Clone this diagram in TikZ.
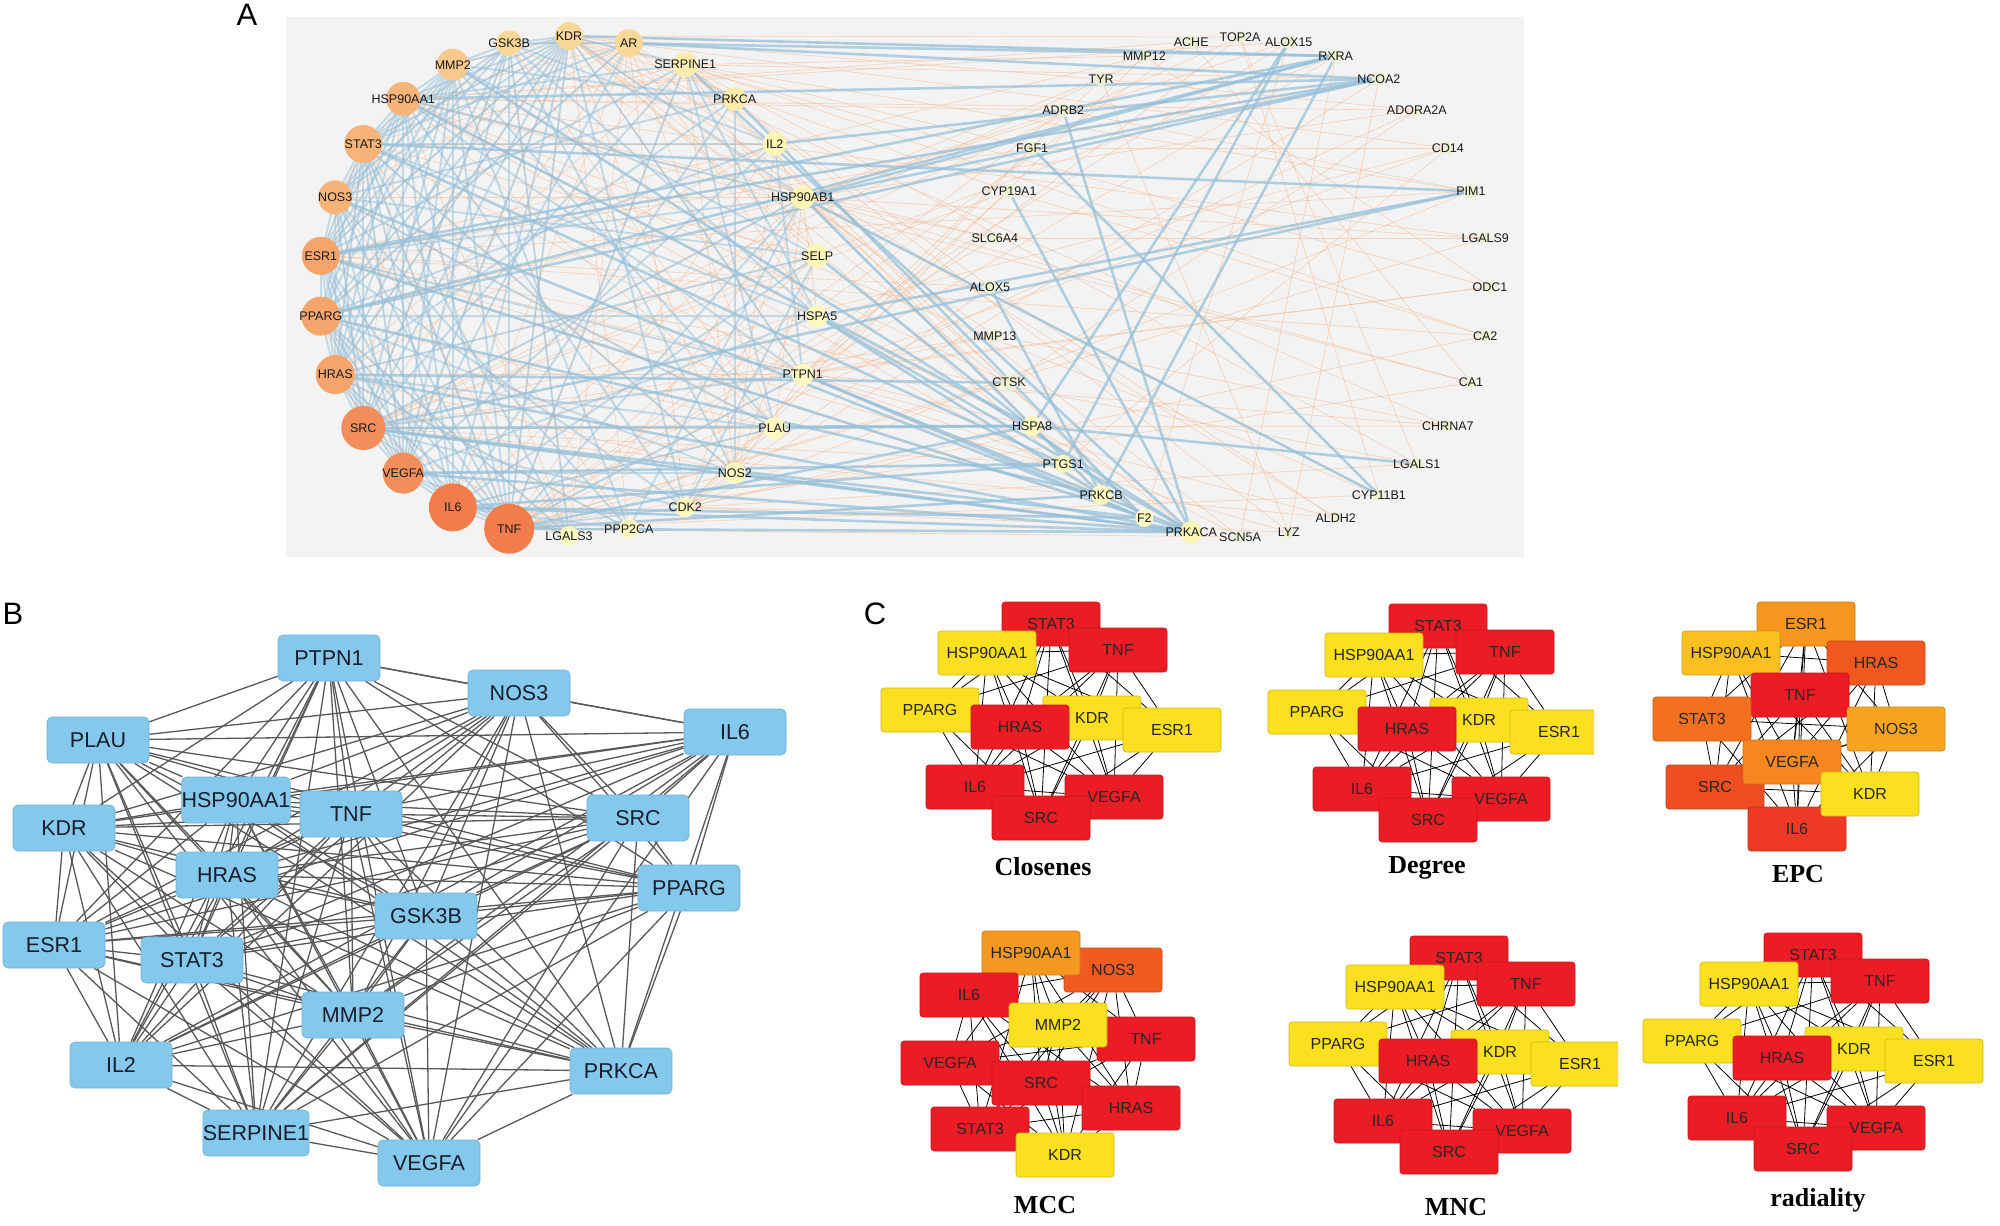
\documentclass[tikz,border=0pt]{standalone}
\usepackage{fontspec}
\setmainfont{Liberation Sans}
\newfontfamily\titleserif{Liberation Serif}
\pgfdeclarelayer{bglayer}
\pgfdeclarelayer{edgelayer}
\pgfsetlayers{bglayer,edgelayer,main}
\definecolor{abg}{RGB}{243,243,243}
\definecolor{bedge}{RGB}{150,192,218}
\definecolor{oedge}{RGB}{245,178,132}
\definecolor{nA}{RGB}{240,125,75}
\definecolor{nA1}{RGB}{242,142,90}
\definecolor{nB1}{RGB}{245,165,108}
\definecolor{nB}{RGB}{246,180,122}
\definecolor{nB2}{RGB}{248,200,140}
\definecolor{nC}{RGB}{249,215,150}
\definecolor{nY2}{RGB}{252,236,172}
\definecolor{nY1}{RGB}{253,245,180}
\definecolor{nY}{RGB}{252,248,192}
\definecolor{nR}{RGB}{236,241,212}
\definecolor{bfill}{RGB}{132,200,235}
\definecolor{bfont}{RGB}{25,30,45}
\definecolor{bgrey}{RGB}{88,88,88}
\definecolor{cR}{RGB}{236,28,36}
\definecolor{cY}{RGB}{250,224,30}
\definecolor{cE1}{RGB}{245,150,30}
\definecolor{cE2}{RGB}{250,192,32}
\definecolor{cE3}{RGB}{240,88,32}
\definecolor{cE4}{RGB}{242,112,32}
\definecolor{cE5}{RGB}{247,165,32}
\definecolor{cE6}{RGB}{238,78,34}
\definecolor{cE7}{RGB}{245,135,30}
\definecolor{cE8}{RGB}{238,58,36}
\definecolor{cM1}{RGB}{245,152,32}
\definecolor{cM2}{RGB}{240,92,32}

\def\leftlist{0/KDR/14/nC,1/GSK3B/13/nC,2/MMP2/16/nB2,3/HSP90AA1/17/nB,4/STAT3/19/nB,5/NOS3/17/nB,6/ESR1/19/nB1,7/PPARG/19.5/nB1,8/HRAS/19.5/nB1,9/SRC/22/nA1,10/VEGFA/20.5/nA1,11/IL6/24/nA,12/TNF/25/nA,13/LGALS3/10/nY,14/PPP2CA/10/nY,15/CDK2/10/nY,16/NOS2/11/nY,17/PLAU/11/nY,18/PTPN1/11/nY,19/HSPA5/11/nY,20/SELP/12/nY1,21/HSP90AB1/12/nY1,22/IL2/12/nY1,23/PRKCA/12/nY2,24/SERPINE1/12.5/nY2,25/AR/14/nC}
\def\rightlist{TOP2A/6/nR,ACHE/6/nR,MMP12/6/nR,TYR/7/nR,ADRB2/7/nR,FGF1/7/nR,CYP19A1/7/nR,SLC6A4/6/nR,ALOX5/7/nR,MMP13/7/nR,CTSK/8/nR,HSPA8/10/nY,PTGS1/9/nY,PRKCB/10/nY,F2/9/nY,PRKACA/11/nY1,SCN5A/6/nR,LYZ/6/nR,ALDH2/6/nR,CYP11B1/6/nR,LGALS1/7/nR,CHRNA7/6/nR,CA1/6/nR,CA2/6/nR,ODC1/6/nR,LGALS9/6/nR,PIM1/7/nR,CD14/6/nR,ADORA2A/6/nR,NCOA2/7/nR,RXRA/7/nR,ALOX15/7/nR}
\def\blist{1/PTPN1/329/658,2/NOS3/519/693,3/IL6/735/732,4/PLAU/98/740,5/KDR/64/828,6/HSP90AA1/236/800,7/TNF/351/814,8/SRC/638/818,9/HRAS/227/875,10/PPARG/689/888,11/GSK3B/426/916,12/ESR1/54/945,13/STAT3/192/960,14/MMP2/353/1015,15/IL2/121/1065,16/PRKCA/621/1071,17/SERPINE1/256/1133,18/VEGFA/429/1163}
\def\stdlist{STAT3/1051/624/cR,TNF/1118/650/cR,HSP90AA1/987/653/cY,PPARG/930/710/cY,KDR/1092/718/cY,HRAS/1020/727/cR,ESR1/1172/730/cY,IL6/975/787/cR,VEGFA/1114/797/cR,SRC/1041/818/cR}
\def\epclist{ESR1/1806/624/cE1,HSP90AA1/1731/653/cE2,HRAS/1876/663/cE3,TNF/1800/695/cR,STAT3/1702/719/cE4,NOS3/1896/729/cE5,SRC/1715/787/cE6,VEGFA/1792/762/cE7,IL6/1797/829/cE8,KDR/1870/794/cY}
\def\mcclist{NOS3/1113/970/cM2,HSP90AA1/1031/953/cM1,IL6/969/995/cR,TNF/1146/1039/cR,MMP2/1058/1025/cY,VEGFA/950/1063/cR,SRC/1041/1083/cR,HRAS/1131/1108/cR,STAT3/980/1129/cR,KDR/1065/1155/cY}

\newcommand\cnet[4]{%
  \begin{scope}[shift={(#2,#3)}, name prefix=#1-]
    \foreach \tx/\px/\py/\cc [count=\k from 0] in #4 {
      \node[cbox, fill=\cc, draw=\cc!82!black] (n\k) at (\px,\py) {\tx};
    }
    \begin{pgfonlayer}{edgelayer}
      \foreach \i in {0,...,8}{
        \pgfmathtruncatemacro\ip{\i+1}
        \foreach \j in {\ip,...,9}{\draw[ced] (n\i) -- (n\j);}
      }
    \end{pgfonlayer}
  \end{scope}}

\begin{document}
\begin{tikzpicture}[x=1pt,y=-1pt,
  acirc/.style={circle, inner sep=0pt, draw=none},
  alab/.style={inner sep=0pt, font=\fontsize{12.5}{13}\selectfont, text=black!90},
  bed/.style={draw=bedge, line width=2pt, opacity=.5},
  bedt/.style={draw=bedge, line width=2.6pt, opacity=.72},
  oed/.style={draw=oedge, line width=.7pt, opacity=.5},
  bbox/.style={rectangle, rounded corners=5pt, fill=bfill, draw=bfill!88!black, line width=.6pt,
    minimum width=102pt, minimum height=46pt, inner xsep=0pt, inner ysep=0pt,
    font=\fontsize{21.5}{22}\selectfont, text=bfont},
  bln/.style={draw=bgrey, line width=1.3pt},
  cbox/.style={rectangle, rounded corners=3pt, line width=.6pt, minimum width=98pt, minimum height=44pt,
    inner sep=0pt, font=\fontsize{16}{17}\selectfont, text=black!85},
  ced/.style={draw=black, line width=.8pt},
  ctitle/.style={font=\titleserif\bfseries\fontsize{26}{28}\selectfont, inner sep=0pt},
  plab/.style={font=\fontsize{31}{32}\selectfont, inner sep=0pt}]

\begin{pgfonlayer}{bglayer}
  \fill[white] (0,0) rectangle (2000,1226);
  \fill[abg] (286,17) rectangle (1524,557);
\end{pgfonlayer}
\useasboundingbox (0,0) rectangle (2000,1226);

% ---------------- Panel A ----------------
\node[plab] (labA) at (247,15) {A};
\foreach \i/\nm/\rr/\cc in \leftlist {
  \pgfmathsetmacro\ang{90+\i*360/26}
  \coordinate (L\i) at ({569+250*cos(\ang)},{286-250*sin(\ang)});
}
\foreach \nm/\rr/\cc [count=\i from 0] in \rightlist {
  \pgfmathsetmacro\ang{90+\i*11.25}
  \coordinate (R\i) at ({1240+250*cos(\ang)},{287-250*sin(\ang)});
}
% thin orange edges
\foreach \i in {0,...,24}{
  \pgfmathtruncatemacro\ip{\i+1}
  \foreach \j in {\ip,...,25}{
    \pgfmathtruncatemacro\k{mod(\i*\j+\i+2*\j,4)}
    \ifnum\k=0 \draw[oed] (L\i) -- (L\j);\fi
  }
}
\foreach \i in {0,...,25}{
  \foreach \j in {0,...,31}{
    \pgfmathtruncatemacro\k{mod(\i*5+\j*3,9)}
    \ifnum\k=0 \draw[oed] (L\i) -- (R\j);\fi
  }
}
\foreach \a/\b in {R0/R19,R1/R22,R3/R28,R5/R27,R2/R24,R7/R25,R9/R21,R16/R30,R17/R29,R4/R26,R6/R23,R8/R18,R10/R28,R12/R27,R14/R31,R3/R17,R20/R0}{
  \draw[oed] (\a) -- (\b);
}
% blue edges
\foreach \i in {0,...,11}{
  \pgfmathtruncatemacro\ip{\i+1}
  \foreach \j in {\ip,...,12}{
    \pgfmathtruncatemacro\k{mod(\i*\j,4)}
    \ifnum\k=3\relax\else\draw[bed] (L\i) -- (L\j);\fi
  }
}
\foreach \i in {0,...,12}{
  \foreach \j in {13,...,25}{
    \pgfmathtruncatemacro\k{mod(\i+2*\j,3)}
    \ifnum\k=0 \draw[bed] (L\i) -- (L\j);\fi
  }
}
\foreach \a/\b in {L24/L17,L23/L16,L22/L18,L21/L14,L20/L15,L24/L19}{
  \draw[bed] (\a) -- (\b);
}
\foreach \a/\b in {L25/R29,L25/R30,L3/R29,L6/R29,L6/R30,L7/R30,L7/R29,L21/R29,L21/R30,L22/R29,L0/R30,L4/R26,L19/R26,R11/R20,L21/R19,R31/R12,R31/R11,R30/R13,R4/R15,R8/R13,R6/R15,R5/R19,L3/R11,L9/R15,L10/R15,L11/R15,L12/R15,L8/R15,L9/R14,L11/R14,L12/R13,L10/R12,L5/R14,L6/R15,L7/R13,L19/R13,L19/R15,L18/R15,L18/R14,L20/R14,L21/R13,L17/R11,L16/R15,L2/R15,L9/R11,L12/R11,L11/R12,L24/R15,L23/R14,L9/R26,L8/R10,L4/R12}{
  \draw[bedt] (\a) -- (\b);
}
% nodes
\foreach \i/\nm/\rr/\cc in \leftlist {
  \node[acirc, minimum size=2*\rr, fill=\cc] (Lc\i) at (L\i) {};
  \node[alab] (Lt\i) at (L\i) {\nm};
}
\foreach \nm/\rr/\cc [count=\i from 0] in \rightlist {
  \node[acirc, minimum size=2*\rr, fill=\cc] (Rc\i) at (R\i) {};
  \node[alab] (Rt\i) at (R\i) {\nm};
}

% ---------------- Panel B ----------------
\node[plab] (labB) at (13,614) {B};
\foreach \i/\nm/\px/\py in \blist {
  \node[bbox] (b\i) at (\px,\py) {\nm};
}
\begin{pgfonlayer}{edgelayer}
\foreach \i in {1,...,17}{
  \pgfmathtruncatemacro\ip{\i+1}
  \foreach \j in {\ip,...,18}{\draw[bln] (b\i) -- (b\j);}
}
\end{pgfonlayer}

% ---------------- Panel C ----------------
\node[plab] (labC) at (875,614) {C};
\cnet{cl}{0}{0}{\stdlist}
\begin{scope}
  \clip (1200,590) rectangle (1594,870);
  \cnet{dg}{387}{2}{\stdlist}
\end{scope}
\cnet{epc}{0}{0}{\epclist}
\cnet{mcc}{0}{0}{\mcclist}
\begin{scope}
  \clip (1250,920) rectangle (1618,1190);
  \cnet{mnc}{408}{334}{\stdlist}
\end{scope}
\cnet{rad}{762}{331}{\stdlist}

\node[ctitle] (t1) at (1043,867) {Closenes};
\node[ctitle] (t2) at (1427,868) {Degree};
\node[ctitle] (t3) at (1798,874) {EPC};
\node[ctitle] (t4) at (1045,1205) {MCC};
\node[ctitle] (t5) at (1456,1207) {MNC};
\node[ctitle] (t6) at (1818,1200) {radiality};
\end{tikzpicture}
\end{document}
